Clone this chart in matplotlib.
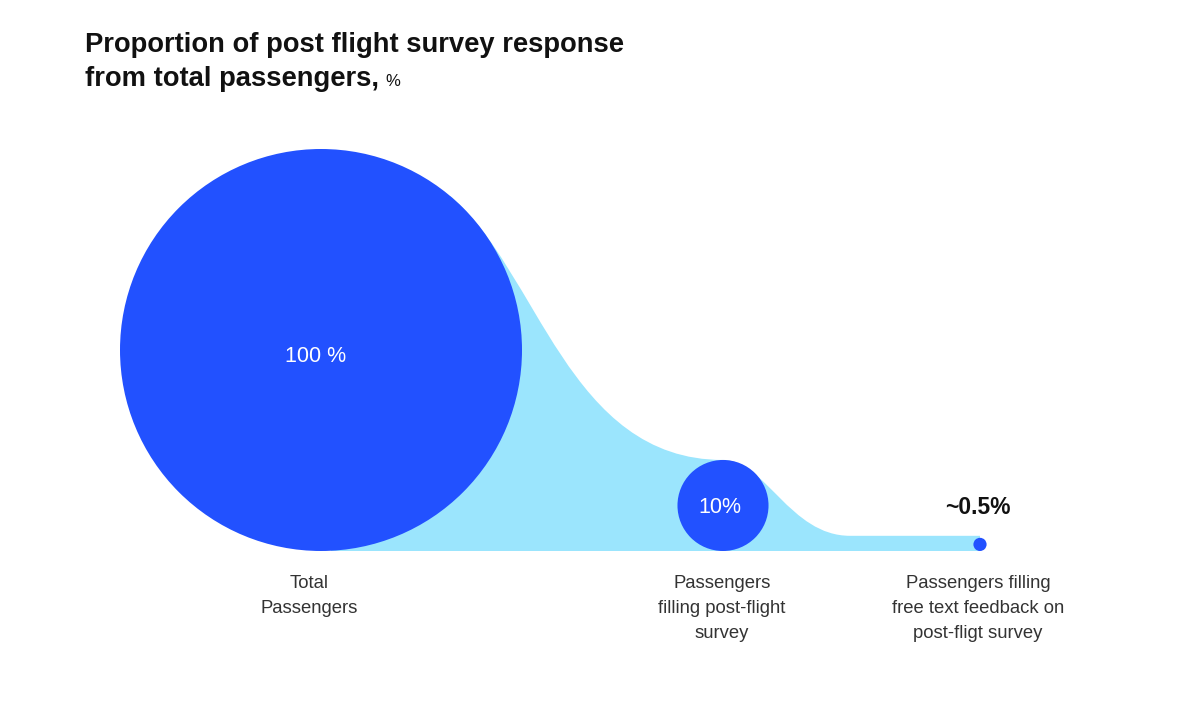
import numpy as np
import matplotlib.pyplot as plt
from matplotlib.patches import Circle, PathPatch
from matplotlib.path import Path

# дані
categories = ["Total\nPassengers",
              "Passengers\nfilling post-flight\nsurvey",
              "Passengers filling\nfree text feedback on\npost-fligt survey"]
values = [100, 10, 0.5]
value_labels = ["100 %", "10%", "~0.5%"]

# розкладка (пікселі)
x_pos = [321, 723, 980]
base_y = 551
max_r = 201

dark_blue = "#2251FF"
light_blue = "#9BE5FD"


def radius(v):
    """Радіус кола за значенням"""
    return max_r * (v / values[0]) ** 0.645


def main():
    fig = plt.figure(figsize=(12, 7.04), dpi=100)
    ax = fig.add_axes([0, 0, 1, 1])
    ax.set_xlim(0, 1200)
    ax.set_ylim(704, 0)
    ax.axis("off")

    radii = [radius(v) for v in values]
    r_mid = radii[1]
    top_mid = base_y - 2 * r_mid
    top_small = base_y - 2 * radii[2] - 2

    # точка дотику на великому колі
    a = np.radians(40)
    cy = base_y - max_r
    p0 = (x_pos[0] + max_r * np.sin(a), cy - max_r * np.cos(a))
    p1 = (p0[0] + 115 * np.cos(a), p0[1] + 115 * np.sin(a))

    # світло-блакитна "хвиля" між колами
    verts = [
        (x_pos[0] + 10, base_y), (x_pos[0] + 10, cy), p0,
        p1, (568, top_mid), (x_pos[1], top_mid),
        (x_pos[1] + 42, top_mid), (790, top_small), (850, top_small),
        (x_pos[2], top_small),
        (x_pos[2], base_y),
        (x_pos[0] + 10, base_y),
    ]
    codes = [Path.MOVETO, Path.LINETO, Path.LINETO,
             Path.CURVE4, Path.CURVE4, Path.CURVE4,
             Path.CURVE4, Path.CURVE4, Path.CURVE4,
             Path.LINETO, Path.LINETO, Path.CLOSEPOLY]
    ax.add_patch(PathPatch(Path(verts, codes), facecolor=light_blue, edgecolor="none", zorder=1))

    # кола
    for x, r in zip(x_pos, radii):
        ax.add_patch(Circle((x, base_y - r), r, facecolor=dark_blue, edgecolor="none", zorder=2))

    # підписи значень
    ax.text(x_pos[0] - 5, base_y - radii[0] + 6, value_labels[0], color="white",
            fontsize=15.5, ha="center", va="center", family="Liberation Sans", zorder=3)
    ax.text(x_pos[1] - 3, base_y - r_mid + 2, value_labels[1], color="white",
            fontsize=15.5, ha="center", va="center", family="Liberation Sans", zorder=3)
    ax.text(x_pos[2] - 2, 508, value_labels[2], color="#111111", fontsize=16.5,
            fontweight="bold", ha="center", va="center", family="Liberation Sans", zorder=3)

    # підписи категорій
    offsets = [-12, -1, -2]
    for x, lab, dx in zip(x_pos, categories, offsets):
        ax.text(x + dx, 575, lab, color="#333333", fontsize=13.3, ha="center", va="top",
                linespacing=1.62, family="Liberation Sans")

    # заголовок
    ax.text(85, 45, "Proportion of post flight survey response", fontsize=19.7,
            fontweight="bold", color="#111111", va="center", family="Liberation Sans")
    t = ax.text(85, 79, "from total passengers,", fontsize=19.7,
                fontweight="bold", color="#111111", va="center", family="Liberation Sans")
    fig.canvas.draw()
    bb = t.get_window_extent().transformed(ax.transData.inverted())
    ax.text(bb.x1 + 6, 82, "%", fontsize=12, color="#111111", va="center",
            family="Liberation Sans")

    plt.savefig("out.png", dpi=100)


if __name__ == "__main__":
    main()
